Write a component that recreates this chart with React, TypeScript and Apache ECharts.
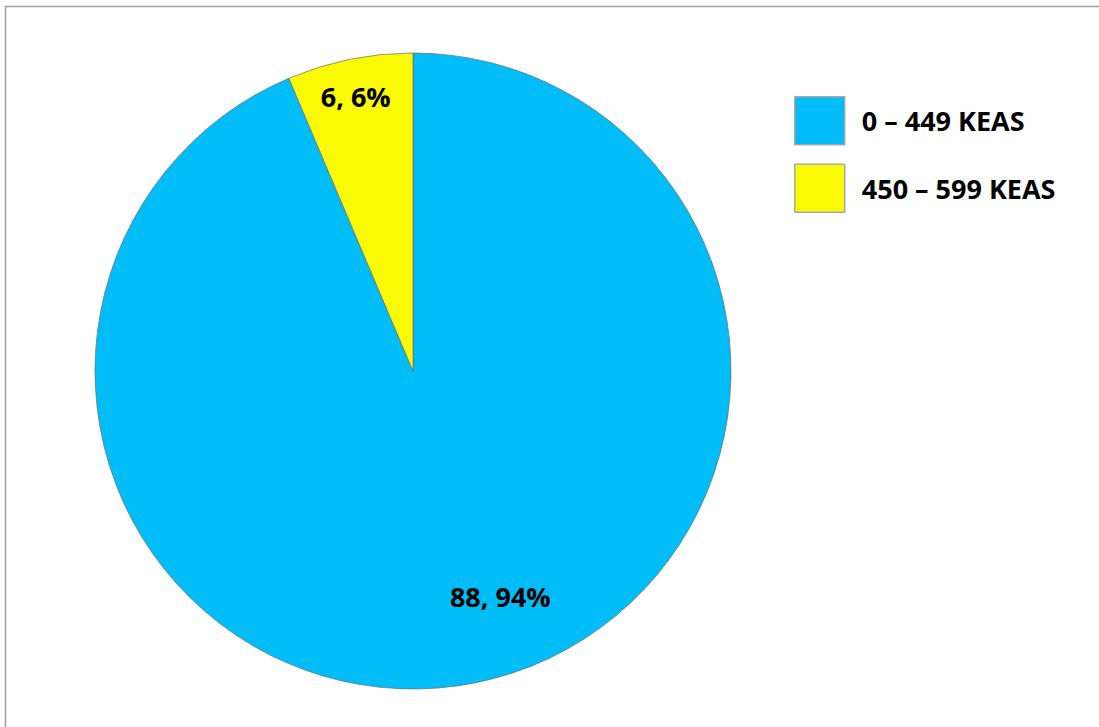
import React, { useEffect, useRef } from "react";
import * as echarts from "echarts";

const categories = ["0 – 449 KEAS", "450 – 599 KEAS"];
const counts = [88, 6];
const percents = [94, 6];
const colors = ["#00BDF8", "#FAFA05"];

// label nudges (px) relative to the default inside position
const labelShift = [
  { dx: 55, dy: 67 },
  { dx: -25, dy: -116 },
];

export default function App() {
  const ref = useRef<HTMLDivElement>(null);
  useEffect(() => {
    if (!ref.current) return;
    const chart = echarts.init(ref.current, null, { renderer: "svg" });
    const font = "'Open Sans', 'Liberation Sans', sans-serif";
    chart.setOption({
      animation: false,
      backgroundColor: "#ffffff",
      graphic: [
        {
          type: "rect",
          shape: { x: 5.5, y: 6.5, width: 1200, height: 900 },
          style: { fill: "none", stroke: "#a0a0a0", lineWidth: 1.5 },
          silent: true,
        },
      ],
      legend: {
        orient: "vertical",
        left: 789,
        top: 91,
        itemWidth: 50,
        itemHeight: 48,
        itemGap: 18,
        icon: "rect",
        itemStyle: { borderColor: "#a8a8a8", borderWidth: 1.5 },
        textStyle: {
          fontFamily: font,
          fontWeight: "bold",
          fontSize: 27,
          color: "#000",
          padding: [0, 0, 0, 12],
        },
        data: categories,
      },
      series: [
        {
          type: "pie",
          center: [413, 371],
          radius: [0, 318],
          startAngle: 90,
          clockwise: true,
          avoidLabelOverlap: false,
          itemStyle: { borderColor: "rgba(110,110,110,0.7)", borderWidth: 1 },
          label: {
            show: true,
            position: "inside",
            fontFamily: font,
            fontWeight: "bold",
            fontSize: 27,
            color: "#000",
            formatter: (p: any) => `${counts[p.dataIndex]}, ${percents[p.dataIndex]}%`,
          },
          labelLine: { show: false },
          labelLayout: (p: any) => ({
            dx: labelShift[p.dataIndex].dx,
            dy: labelShift[p.dataIndex].dy,
          }),
          emphasis: { disabled: true },
          data: categories.map((name, i) => ({
            name,
            value: counts[i],
            itemStyle: { color: colors[i] },
          })),
        },
      ],
    });
    return () => chart.dispose();
  }, []);
  return (
    <div
      ref={ref}
      style={{ position: "absolute", left: 0, top: 0, width: 1099, height: 727 }}
    />
  );
}
